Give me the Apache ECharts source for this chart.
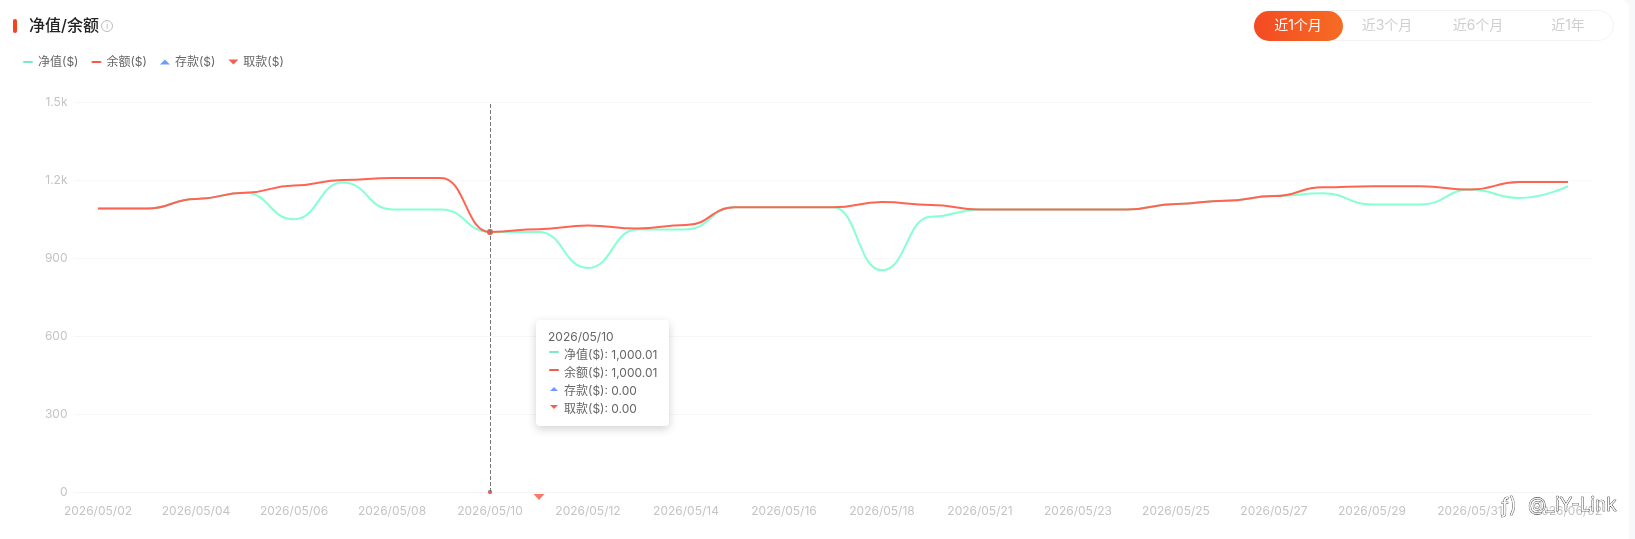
<!DOCTYPE html>
<html>
<head>
<meta charset="utf-8">
<style>
html{background:#f7f8f9;}
html,body{margin:0;padding:0;}
#panel{position:absolute;left:0;top:0;width:1629px;height:539px;background:#fff;border-top-right-radius:8px;}
#chart{position:absolute;left:0;top:0;width:1635px;height:539px;}
</style>
<script src="https://cdn.jsdelivr.net/npm/echarts@6/dist/echarts.min.js"></script>
</head>
<body>
<div id="panel"></div>
<div id="chart"></div>
<script>
const FONT = 'Inter, "Noto Sans CJK SC", sans-serif';

const dates = ['2026/05/02','2026/05/03','2026/05/04','2026/05/05','2026/05/06','2026/05/07','2026/05/08','2026/05/09',
  '2026/05/10','2026/05/11','2026/05/12','2026/05/13','2026/05/14','2026/05/15','2026/05/16','2026/05/17','2026/05/18',
  '2026/05/20','2026/05/21','2026/05/22','2026/05/23','2026/05/24','2026/05/25','2026/05/26','2026/05/27','2026/05/28',
  '2026/05/29','2026/05/30','2026/05/31','2026/06/01','2026/06/02'];
const netValue = [1090,1090,1127,1151,1049,1190,1087,1087,1000.01,1000,862,1010,1010,1095,1095,1095,853,1059,1087,1087,1087,1087,1108,1120,1138,1149,1106,1106,1163,1131,1176];
const balance = [1090,1090,1127,1151,1179,1200,1208,1208,1000.01,1011,1025,1013,1027,1095,1095,1095,1115,1104,1087,1087,1087,1087,1108,1120,1138,1172,1176,1176,1163,1192,1192];
const deposits = dates.map(() => 0);
const withdrawals = dates.map(() => 0);
const withdrawalDates = ['2026/05/11'];
const rangeTabs = ['近1个月','近3个月','近6个月','近1年'];

const GREEN = '#7AEBBE', RED = '#F35B4B', BLUE = '#6C9BFF', SALMON = '#F4604F';
const LINE_ICON = 'path://M1,0H9A1,1,0,0,1,9,2H1A1,1,0,0,1,1,0Z';
const UP_ICON = 'path://M5,0L10,5H0Z';
const DOWN_ICON = 'path://M0,0H10L5,5Z';
const ICONS = {
  line: '<svg width="10" height="10" style="margin:0 5px 0 1px;vertical-align:1px"><rect y="3" width="10" height="2" rx="1" fill="COLOR"/></svg>',
  up: '<svg width="10" height="10" style="margin:0 5px 0 1px;vertical-align:0"><path d="M5 2L9 6H1Z" fill="COLOR"/></svg>',
  down: '<svg width="10" height="10" style="margin:0 5px 0 1px;vertical-align:0"><path d="M1 2H9L5 6Z" fill="COLOR"/></svg>'
};
const money = v => Number(v).toLocaleString('en-US', {minimumFractionDigits: 2, maximumFractionDigits: 2});

const tabCentres = [1298, 1387, 1478, 1568];
const markFade = () => new echarts.graphic.LinearGradient(0,0,1,0,[{offset:0,color:'#222'},{offset:0.45,color:'#333'},{offset:1,color:'#aaa'}]);
const graphic = [
  {type:'rect', shape:{x:13,y:19,width:4,height:14,r:2}, style:{fill:'#F5431F'}},
  {type:'text', x:29, y:26, style:{text:'净值/余额', font:'500 16px ' + FONT, fill:'#222', textVerticalAlign:'middle'}},
  {type:'circle', shape:{cx:107,cy:26,r:5.5}, style:{fill:'none', stroke:'#bdbdbd', lineWidth:1}},
  {type:'text', x:107, y:26, style:{text:'i', font:'9px ' + FONT, fill:'#bdbdbd', textAlign:'center', textVerticalAlign:'middle'}},
  {type:'rect', shape:{x:1254.5,y:10.5,width:359,height:30,r:15}, style:{fill:'#fff', stroke:'#f3f3f3', lineWidth:1}},
  {type:'rect', shape:{x:1254,y:11,width:89,height:30,r:15}, style:{fill:new echarts.graphic.LinearGradient(0,0,1,0,[{offset:0,color:'#F44A24'},{offset:1,color:'#F66C23'}])}},
  ...rangeTabs.map((t, i) => ({type:'text', x:tabCentres[i], y:26, style:{text:t, font:'14px ' + FONT, fill:i === 0 ? '#fff' : '#cfcfcf', textAlign:'center', textVerticalAlign:'middle'}})),
  {type:'text', x:1528, y:505, z:100, style:{text:'@_iY-Link', font:'19px ' + FONT, fill:'rgba(255,255,255,0.8)', stroke:markFade(), lineWidth:0.6, textVerticalAlign:'middle'}},
  {type:'text', x:1509, y:507, z:100, style:{text:'ƒ)', font:'21px ' + FONT, fill:'rgba(255,255,255,0.8)', stroke:'#222', lineWidth:0.6, textAlign:'center', textVerticalAlign:'middle'}}
];

const lineSeries = (name, data, color) => ({
  name, type:'line', data, smooth:0.5, smoothMonotone:'x', showSymbol:false, symbol:'circle', symbolSize:6,
  lineStyle:{color, width:2}, itemStyle:{color}, emphasis:{scale:1, lineStyle:{width:2}}
});

const hiddenSeries = (name, data, color) => ({
  name, type:'line', data, showSymbol:false, symbol:'circle', symbolSize:4,
  lineStyle:{width:0, opacity:0}, itemStyle:{color}, emphasis:{scale:1, lineStyle:{width:0}}
});

const chart = echarts.init(document.getElementById('chart'));
chart.setOption({
  animation:false,
  backgroundColor:'transparent',
  textStyle:{fontFamily:FONT},
  graphic,
  legend:{
    left:18, top:51, itemWidth:10, itemHeight:8, itemGap:13,
    textStyle:{color:'#666', fontSize:12, fontFamily:FONT},
    data:[
      {name:'净值($)', icon:LINE_ICON, itemStyle:{color:GREEN}},
      {name:'余额($)', icon:LINE_ICON, itemStyle:{color:RED}},
      {name:'存款($)', icon:UP_ICON, itemStyle:{color:BLUE}},
      {name:'取款($)', icon:DOWN_ICON, itemStyle:{color:SALMON}}
    ]
  },
  grid:{left:73.5, right:42.5, top:102, bottom:47},
  tooltip:{
    trigger:'axis', alwaysShowContent:true, transitionDuration:0,
    position:[536,320],
    padding:[8,12],
    backgroundColor:'#fff', borderWidth:0, borderRadius:4,
    extraCssText:'box-shadow:0 3px 10px rgba(0,0,0,0.18);line-height:18px;',
    textStyle:{color:'#666', fontSize:12, fontFamily:FONT},
    axisPointer:{type:'line', lineStyle:{color:'#777', width:1, type:'dashed'}},
    formatter(params){
      const kinds = ['line','line','up','down'];
      const colors = [GREEN, RED, BLUE, SALMON];
      let html = params[0].axisValue;
      params.forEach(p => {
        html += '<br/>' + ICONS[kinds[p.seriesIndex]].replace('COLOR', colors[p.seriesIndex]) + p.seriesName + ': ' + money(p.value);
      });
      return html;
    }
  },
  xAxis:{
    type:'category', data:dates, boundaryGap:true,
    axisTick:{show:false}, axisLine:{lineStyle:{color:'#f5f5f5'}},
    axisLabel:{interval:1, color:'#c4c4c4', fontSize:12, margin:13, fontFamily:FONT}
  },
  yAxis:{
    type:'value', min:0, max:1500, interval:300,
    axisLine:{show:false}, axisTick:{show:false},
    splitLine:{lineStyle:{color:'#f7f7f7'}},
    axisLabel:{color:'#c4c4c4', fontSize:12, margin:6, fontFamily:FONT,
      formatter:v => v >= 1000 ? (v / 1000).toFixed(1) + 'k' : String(v)}
  },
  series:[
    lineSeries('净值($)', netValue, GREEN),
    lineSeries('余额($)', balance, RED),
    hiddenSeries('存款($)', deposits, BLUE),
    Object.assign(hiddenSeries('取款($)', withdrawals, SALMON), {
      markPoint:{
        symbol:'path://M0,0H10L5,5Z', symbolSize:[11,6], symbolOffset:[0,5], silent:true,
        itemStyle:{color:'#F87A6B'}, label:{show:false},
        data:withdrawalDates.map(d => ({coord:[d, withdrawals[dates.indexOf(d)]]}))
      }
    })
  ]
});
chart.dispatchAction({type:'showTip', seriesIndex:0, dataIndex:dates.indexOf('2026/05/10')});
</script>
</body>
</html>
